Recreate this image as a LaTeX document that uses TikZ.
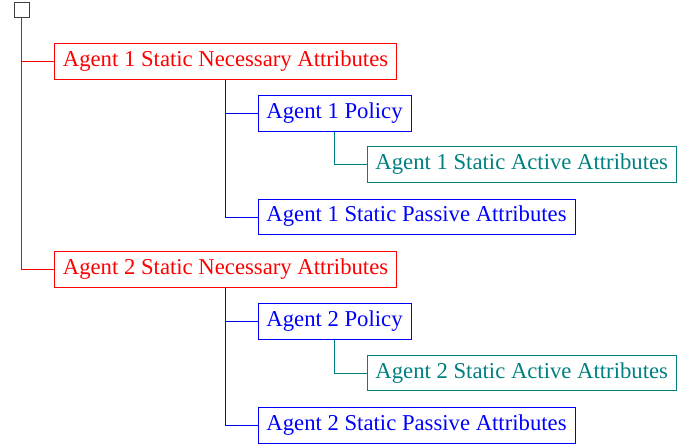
\documentclass[tikz,border=0pt]{standalone}
\usepackage{fontspec}
\setmainfont{Liberation Serif}
\usetikzlibrary{positioning}
\tikzset{
	item/.style={draw,anchor=west,inner xsep=8.5pt,inner ysep=0pt,text height=16pt,text depth=6pt,minimum height=35.5pt,font=\fontsize{22.7}{27}\selectfont},
	agent/.style={item,red},
	policy/.style={item,blue},
	active/.style={item,teal}
}
\begin{document}
\begin{tikzpicture}[x=1pt,y=1pt,line width=0.8pt]
	\useasboundingbox (0,0) rectangle (695,-446);
	\node[draw=black!75,minimum size=15pt,inner sep=0pt] (root) at (21.5,-9.5) {};
	% agent 1
	\node[agent] (nec1) at ([xshift=32.5pt]root.south |- 0,-61.5) {Agent 1 Static Necessary Attributes};
	\node[policy] (pol1) at ([xshift=32pt]nec1.south |- 0,-113.5) {Agent 1 Policy};
	\node[active] (act1) at ([xshift=32pt]pol1.south |- 0,-164.5) {Agent 1 Static Active Attributes};
	\node[policy] (pas1) at ([xshift=32pt]nec1.south |- 0,-217) {Agent 1 Static Passive Attributes};
	% agent 2
	\node[agent] (nec2) at ([xshift=32.5pt]root.south |- 0,-269.5) {Agent 2 Static Necessary Attributes};
	\node[policy] (pol2) at ([xshift=32pt]nec2.south |- 0,-321.5) {Agent 2 Policy};
	\node[active] (act2) at ([xshift=32pt]pol2.south |- 0,-373) {Agent 2 Static Active Attributes};
	\node[policy] (pas2) at ([xshift=32pt]nec2.south |- 0,-425.5) {Agent 2 Static Passive Attributes};
	% edges
	\draw[red] (root.south) |- (nec1.west);
	\draw[red] (root.south) |- (nec2.west);
	\draw[blue] (nec1.south) |- (pol1.west);
	\draw[blue] (nec1.south) |- (pas1.west);
	\draw[teal] (pol1.south) |- (act1.west);
	\draw[blue] (nec2.south) |- (pol2.west);
	\draw[blue] (nec2.south) |- (pas2.west);
	\draw[teal] (pol2.south) |- (act2.west);
\end{tikzpicture}
\end{document}
